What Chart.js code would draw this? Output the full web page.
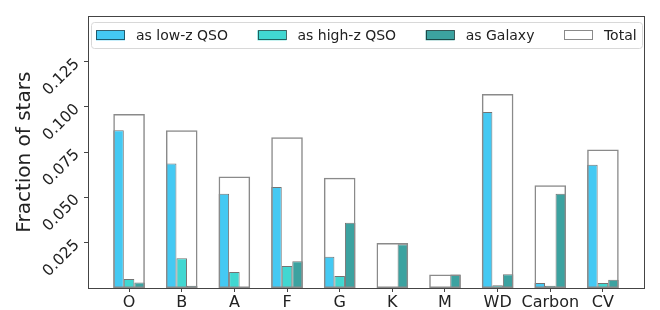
<!DOCTYPE html>
<html>
<head>
<meta charset="utf-8">
<title>Fraction of stars</title>
<script src="https://cdn.jsdelivr.net/npm/chart.js@4.4.0/dist/chart.umd.min.js"></script>
<style>
  html, body { margin: 0; padding: 0; background: #fff; }
  #wrap { width: 660px; height: 310px; }
</style>
</head>
<body>
<div id="wrap"><canvas id="chart" width="660" height="310"></canvas></div>
<script>
// spectral classes on the x axis
const categories = ['O', 'B', 'A', 'F', 'G', 'K', 'M', 'WD', 'Carbon', 'CV'];

// fraction of stars per class
const lowZQso  = [0.0871, 0.0687, 0.0521, 0.0557, 0.0173, 0.0003, 0.0, 0.0971, 0.0028, 0.0680];
const highZQso = [0.0050, 0.0164, 0.0089, 0.0121, 0.0066, 0.0, 0.0, 0.0015, 0.0012, 0.0028];
const galaxy   = [0.0030, 0.0012, 0.0, 0.0148, 0.0360, 0.0241, 0.0074, 0.0076, 0.0521, 0.0046];
const total    = [0.0961, 0.0871, 0.0615, 0.0832, 0.0608, 0.0249, 0.0074, 0.1071, 0.0567, 0.0764];

const yTicks = [0.025, 0.050, 0.075, 0.100, 0.125];

const FONT = 'DejaVu Sans';
const edge = 'rgba(0,0,0,0.55)';

const points = vals => vals.map((v, i) => ({ x: i, y: v }));
const categoryTicks = scale => { scale.ticks = categories.map((c, i) => ({ value: i })); };

// axes box + legend drawn inside the plot area (matplotlib style)
const axesFrame = {
  id: 'axesFrame',
  afterDraw(chart) {
    const ctx = chart.ctx, a = chart.chartArea;
    ctx.save();
    ctx.strokeStyle = '#444';
    ctx.lineWidth = 1;
    ctx.strokeRect(Math.round(a.left) + 0.5, Math.round(a.top) + 0.5,
      Math.round(a.right - a.left), Math.round(a.bottom - a.top));

    // legend frame
    const bx = a.left + 3, by = a.top + 6, bw = a.right - a.left - 5, bh = 26;
    ctx.fillStyle = 'rgba(255,255,255,0.8)';
    ctx.strokeStyle = '#d8d8d8';
    ctx.beginPath();
    ctx.roundRect(Math.round(bx) + 0.5, Math.round(by) + 0.5, bw, bh, 3);
    ctx.fill();
    ctx.stroke();

    ctx.font = '14px "' + FONT + '"';
    ctx.textBaseline = 'middle';
    const cy = by + bh / 2;
    let x = bx + 5;
    chart.data.datasets.forEach(ds => {
      ctx.fillStyle = ds.legendFill || ds.backgroundColor;
      ctx.fillRect(x, cy - 5, 29, 10);
      ctx.strokeStyle = ds.borderColor;
      ctx.lineWidth = 1;
      ctx.strokeRect(Math.round(x) + 0.5, Math.round(cy - 5) + 0.5, 28, 9);
      ctx.fillStyle = '#222';
      ctx.fillText(ds.label, x + 40, cy + 1);
      x += 40 + ctx.measureText(ds.label).width + 29.5;
    });
    ctx.restore();
  }
};

const barStyle = { borderColor: edge, borderWidth: 1, borderSkipped: false,
  categoryPercentage: 0.6, barPercentage: 1.0, order: 1 };

new Chart(document.getElementById('chart'), {
  type: 'bar',
  data: {
    datasets: [
      Object.assign({ label: 'as low-z QSO', data: points(lowZQso), backgroundColor: '#44c9f3' }, barStyle),
      Object.assign({ label: 'as high-z QSO', data: points(highZQso), backgroundColor: '#41d7d1' }, barStyle),
      Object.assign({ label: 'as Galaxy', data: points(galaxy), backgroundColor: '#3ca2a0' }, barStyle),
      {
        label: 'Total', data: points(total), order: 0, grouped: false,
        backgroundColor: 'rgba(255,255,255,0)', legendFill: '#fff',
        borderColor: '#8a8a8a', borderWidth: 1.5, borderSkipped: false,
        categoryPercentage: 0.6, barPercentage: 1.0
      }
    ]
  },
  options: {
    responsive: false,
    animation: false,
    devicePixelRatio: 1,
    layout: { padding: { top: 9, right: 16, left: 0, bottom: 0 } },
    plugins: { legend: { display: false }, tooltip: { enabled: false } },
    scales: {
      x: {
        type: 'linear', min: -0.78, max: 9.78, offset: false,
        afterBuildTicks: categoryTicks,
        afterFit: s => { s.height = 22; },
        border: { display: false },
        grid: { offset: false, drawOnChartArea: false, drawTicks: true, tickLength: 4, color: '#444' },
        ticks: {
          autoSkip: false, maxRotation: 0, padding: 1,
          font: { family: FONT, size: 16 }, color: '#222',
          callback: v => categories[v]
        }
      },
      y: {
        min: 0, max: 0.15,
        afterBuildTicks: s => { s.ticks = yTicks.map(v => ({ value: v })); },
        afterFit: s => { s.width = 88; },
        border: { display: false },
        grid: { drawOnChartArea: false, drawTicks: true, tickLength: 4, color: '#444' },
        ticks: {
          minRotation: 45, maxRotation: 45, padding: 7,
          font: { family: FONT, size: 15.5 }, color: '#222',
          callback: v => v.toFixed(3)
        },
        title: {
          display: true, text: 'Fraction of stars', color: '#222',
          font: { family: FONT, size: 20 }, padding: { top: 13, bottom: 0 }
        }
      }
    }
  },
  plugins: [axesFrame]
});
</script>
</body>
</html>
